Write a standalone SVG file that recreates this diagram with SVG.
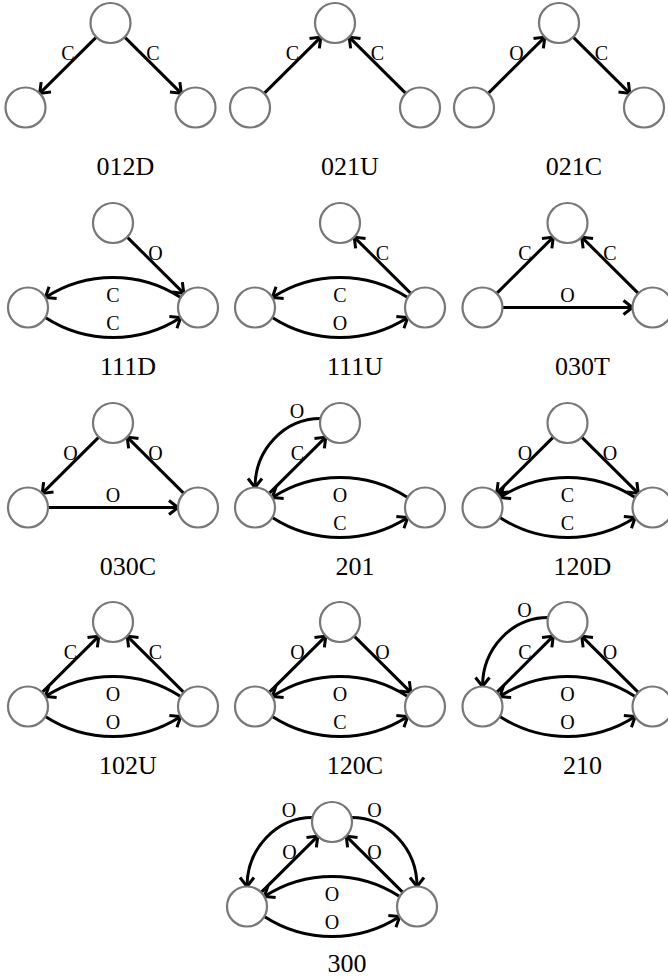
<svg xmlns="http://www.w3.org/2000/svg" xmlns:xlink="http://www.w3.org/1999/xlink" width="668" height="977" viewBox="0 0 668 977">
<defs>
<style>
.nd{fill:#fff;stroke:#777;stroke-width:2.2}
.ed{fill:none;stroke:#000;stroke-width:3;marker-end:url(#ah)}
.lb{font-family:"Liberation Serif","Times New Roman",serif;font-size:20px;fill:#000;text-anchor:middle}
.cap{font-family:"Liberation Serif","Times New Roman",serif;font-size:26px;fill:#000;text-anchor:middle}
</style>
<marker id="ah" markerUnits="userSpaceOnUse" viewBox="-12 -10 14 20" markerWidth="14" markerHeight="20" refX="0" refY="0" orient="auto">
<path d="M-9,-7 L0,0 L-9,7" fill="none" stroke="#000" stroke-width="3"/>
</marker>
</defs>
<rect width="668" height="977" fill="#fff"/>

<!-- 012D -->
<g id="p012D" transform="translate(25.5,23)">
<g id="e012D"><path class="ed" d="M70.8,14.1 L14.2,70.4"/><path class="ed" d="M99.2,14.1 L155.8,70.4"/></g>
<g id="n012D-T"><circle class="nd" cx="85" cy="0" r="20"/></g>
<g id="n012D-L"><circle class="nd" cx="0" cy="84.5" r="20"/></g>
<g id="n012D-R"><circle class="nd" cx="170" cy="84.5" r="20"/></g>
<text class="lb" x="42.5" y="36.7">C</text><text class="lb" x="127.5" y="36.7">C</text>
<text class="cap" x="100" y="152">012D</text>
</g>

<!-- 021U -->
<g id="p021U" transform="translate(250,23)">
<g id="e021U"><path class="ed" d="M14.2,70.4 L70.8,14.1"/><path class="ed" d="M155.8,70.4 L99.2,14.1"/></g>
<g id="n021U-T"><circle class="nd" cx="85" cy="0" r="20"/></g>
<g id="n021U-L"><circle class="nd" cx="0" cy="84.5" r="20"/></g>
<g id="n021U-R"><circle class="nd" cx="170" cy="84.5" r="20"/></g>
<text class="lb" x="42.5" y="36.7">C</text><text class="lb" x="127.5" y="36.7">C</text>
<text class="cap" x="100" y="152">021U</text>
</g>

<!-- 021C -->
<g id="p021C" transform="translate(474,23)">
<g id="e021C"><path class="ed" d="M14.2,70.4 L70.8,14.1"/><path class="ed" d="M99.2,14.1 L155.8,70.4"/></g>
<g id="n021C-T"><circle class="nd" cx="85" cy="0" r="20"/></g>
<g id="n021C-L"><circle class="nd" cx="0" cy="84.5" r="20"/></g>
<g id="n021C-R"><circle class="nd" cx="170" cy="84.5" r="20"/></g>
<text class="lb" x="42.5" y="36.7">O</text><text class="lb" x="127.5" y="36.7">C</text>
<text class="cap" x="100" y="152">021C</text>
</g>

<!-- 111D -->
<g id="p111D" transform="translate(28,223)">
<g id="e111D"><path class="ed" d="M99.2,14.1 L155.8,70.4"/><path class="ed" d="M152.7,74.5 A124.6,124.6 0 0 0 17.3,74.5"/><path class="ed" d="M17.3,94.5 A124.6,124.6 0 0 0 152.7,94.5"/></g>
<g id="n111D-T"><circle class="nd" cx="85" cy="0" r="20"/></g>
<g id="n111D-L"><circle class="nd" cx="0" cy="84.5" r="20"/></g>
<g id="n111D-R"><circle class="nd" cx="170" cy="84.5" r="20"/></g>
<text class="lb" x="127.5" y="36.7">O</text><text class="lb" x="85" y="78.7">C</text><text class="lb" x="85" y="107">C</text>
<text class="cap" x="100" y="152">111D</text>
</g>

<!-- 111U -->
<g id="p111U" transform="translate(255,223)">
<g id="e111U"><path class="ed" d="M155.8,70.4 L99.2,14.1"/><path class="ed" d="M152.7,74.5 A124.6,124.6 0 0 0 17.3,74.5"/><path class="ed" d="M17.3,94.5 A124.6,124.6 0 0 0 152.7,94.5"/></g>
<g id="n111U-T"><circle class="nd" cx="85" cy="0" r="20"/></g>
<g id="n111U-L"><circle class="nd" cx="0" cy="84.5" r="20"/></g>
<g id="n111U-R"><circle class="nd" cx="170" cy="84.5" r="20"/></g>
<text class="lb" x="127.5" y="36.7">C</text><text class="lb" x="85" y="78.7">C</text><text class="lb" x="85" y="107">O</text>
<text class="cap" x="100" y="152">111U</text>
</g>

<!-- 030T -->
<g id="p030T" transform="translate(482.5,223)">
<g id="e030T"><path class="ed" d="M14.2,70.4 L70.8,14.1"/><path class="ed" d="M155.8,70.4 L99.2,14.1"/><path class="ed" d="M20,84.5 L150,84.5"/></g>
<g id="n030T-T"><circle class="nd" cx="85" cy="0" r="20"/></g>
<g id="n030T-L"><circle class="nd" cx="0" cy="84.5" r="20"/></g>
<g id="n030T-R"><circle class="nd" cx="170" cy="84.5" r="20"/></g>
<text class="lb" x="42.5" y="36.7">C</text><text class="lb" x="127.5" y="36.7">C</text><text class="lb" x="85" y="79">O</text>
<text class="cap" x="100" y="152">030T</text>
</g>

<!-- 030C -->
<g id="p030C" transform="translate(28,423)">
<g id="e030C"><path class="ed" d="M70.8,14.1 L14.2,70.4"/><path class="ed" d="M155.8,70.4 L99.2,14.1"/><path class="ed" d="M20,84.5 L150,84.5"/></g>
<g id="n030C-T"><circle class="nd" cx="85" cy="0" r="20"/></g>
<g id="n030C-L"><circle class="nd" cx="0" cy="84.5" r="20"/></g>
<g id="n030C-R"><circle class="nd" cx="170" cy="84.5" r="20"/></g>
<text class="lb" x="42.5" y="36.7">O</text><text class="lb" x="127.5" y="36.7">O</text><text class="lb" x="85" y="79">O</text>
<text class="cap" x="100" y="152">030C</text>
</g>

<!-- 201 -->
<g id="p201" transform="translate(255,423)">
<g id="e201"><path class="ed" d="M65.5,-4.5 A65.5,69 0 0 0 0,64.5"/><path class="ed" d="M14.2,70.4 L70.8,14.1"/><path class="ed" d="M152.7,74.5 A124.6,124.6 0 0 0 17.3,74.5"/><path class="ed" d="M17.3,94.5 A124.6,124.6 0 0 0 152.7,94.5"/></g>
<g id="n201-T"><circle class="nd" cx="85" cy="0" r="20"/></g>
<g id="n201-L"><circle class="nd" cx="0" cy="84.5" r="20"/></g>
<g id="n201-R"><circle class="nd" cx="170" cy="84.5" r="20"/></g>
<text class="lb" x="42" y="-4.8">O</text><text class="lb" x="42.5" y="36.7">C</text><text class="lb" x="85" y="78.7">O</text><text class="lb" x="85" y="107">C</text>
<text class="cap" x="100" y="152">201</text>
</g>

<!-- 120D -->
<g id="p120D" transform="translate(482.5,423)">
<g id="e120D"><path class="ed" d="M70.8,14.1 L14.2,70.4"/><path class="ed" d="M99.2,14.1 L155.8,70.4"/><path class="ed" d="M152.7,74.5 A124.6,124.6 0 0 0 17.3,74.5"/><path class="ed" d="M17.3,94.5 A124.6,124.6 0 0 0 152.7,94.5"/></g>
<g id="n120D-T"><circle class="nd" cx="85" cy="0" r="20"/></g>
<g id="n120D-L"><circle class="nd" cx="0" cy="84.5" r="20"/></g>
<g id="n120D-R"><circle class="nd" cx="170" cy="84.5" r="20"/></g>
<text class="lb" x="42.5" y="36.7">O</text><text class="lb" x="127.5" y="36.7">O</text><text class="lb" x="85" y="78.7">C</text><text class="lb" x="85" y="107">C</text>
<text class="cap" x="100" y="152">120D</text>
</g>

<!-- 102U -->
<g id="p102U" transform="translate(28,622)">
<g id="e102U"><path class="ed" d="M14.2,70.4 L70.8,14.1"/><path class="ed" d="M155.8,70.4 L99.2,14.1"/><path class="ed" d="M152.7,74.5 A124.6,124.6 0 0 0 17.3,74.5"/><path class="ed" d="M17.3,94.5 A124.6,124.6 0 0 0 152.7,94.5"/></g>
<g id="n102U-T"><circle class="nd" cx="85" cy="0" r="20"/></g>
<g id="n102U-L"><circle class="nd" cx="0" cy="84.5" r="20"/></g>
<g id="n102U-R"><circle class="nd" cx="170" cy="84.5" r="20"/></g>
<text class="lb" x="42.5" y="36.7">C</text><text class="lb" x="127.5" y="36.7">C</text><text class="lb" x="85" y="78.7">O</text><text class="lb" x="85" y="107">O</text>
<text class="cap" x="100" y="152">102U</text>
</g>

<!-- 120C -->
<g id="p120C" transform="translate(255,622)">
<g id="e120C"><path class="ed" d="M14.2,70.4 L70.8,14.1"/><path class="ed" d="M99.2,14.1 L155.8,70.4"/><path class="ed" d="M152.7,74.5 A124.6,124.6 0 0 0 17.3,74.5"/><path class="ed" d="M17.3,94.5 A124.6,124.6 0 0 0 152.7,94.5"/></g>
<g id="n120C-T"><circle class="nd" cx="85" cy="0" r="20"/></g>
<g id="n120C-L"><circle class="nd" cx="0" cy="84.5" r="20"/></g>
<g id="n120C-R"><circle class="nd" cx="170" cy="84.5" r="20"/></g>
<text class="lb" x="42.5" y="36.7">O</text><text class="lb" x="127.5" y="36.7">O</text><text class="lb" x="85" y="78.7">O</text><text class="lb" x="85" y="107">C</text>
<text class="cap" x="100" y="152">120C</text>
</g>

<!-- 210 -->
<g id="p210" transform="translate(482.5,622)">
<g id="e210"><path class="ed" d="M65.5,-4.5 A65.5,69 0 0 0 0,64.5"/><path class="ed" d="M14.2,70.4 L70.8,14.1"/><path class="ed" d="M155.8,70.4 L99.2,14.1"/><path class="ed" d="M152.7,74.5 A124.6,124.6 0 0 0 17.3,74.5"/><path class="ed" d="M17.3,94.5 A124.6,124.6 0 0 0 152.7,94.5"/></g>
<g id="n210-T"><circle class="nd" cx="85" cy="0" r="20"/></g>
<g id="n210-L"><circle class="nd" cx="0" cy="84.5" r="20"/></g>
<g id="n210-R"><circle class="nd" cx="170" cy="84.5" r="20"/></g>
<text class="lb" x="42" y="-4.8">O</text><text class="lb" x="42.5" y="36.7">C</text><text class="lb" x="127.5" y="36.7">O</text><text class="lb" x="85" y="78.7">O</text><text class="lb" x="85" y="107">O</text>
<text class="cap" x="100" y="152">210</text>
</g>

<!-- 300 -->
<g id="p300" transform="translate(247,822)">
<g id="e300"><path class="ed" d="M65.5,-4.5 A65.5,69 0 0 0 0,64.5"/><path class="ed" d="M104.5,-4.5 A65.5,69 0 0 1 170,64.5"/><path class="ed" d="M14.2,70.4 L70.8,14.1"/><path class="ed" d="M155.8,70.4 L99.2,14.1"/><path class="ed" d="M152.7,74.5 A124.6,124.6 0 0 0 17.3,74.5"/><path class="ed" d="M17.3,94.5 A124.6,124.6 0 0 0 152.7,94.5"/></g>
<g id="n300-T"><circle class="nd" cx="85" cy="0" r="20"/></g>
<g id="n300-L"><circle class="nd" cx="0" cy="84.5" r="20"/></g>
<g id="n300-R"><circle class="nd" cx="170" cy="84.5" r="20"/></g>
<text class="lb" x="42" y="-4.8">O</text><text class="lb" x="127.5" y="-4.8">O</text><text class="lb" x="42.5" y="36.7">O</text><text class="lb" x="127.5" y="36.7">O</text><text class="lb" x="85" y="78.7">O</text><text class="lb" x="85" y="107">O</text>
<text class="cap" x="100" y="149.5">300</text>
</g>
</svg>
